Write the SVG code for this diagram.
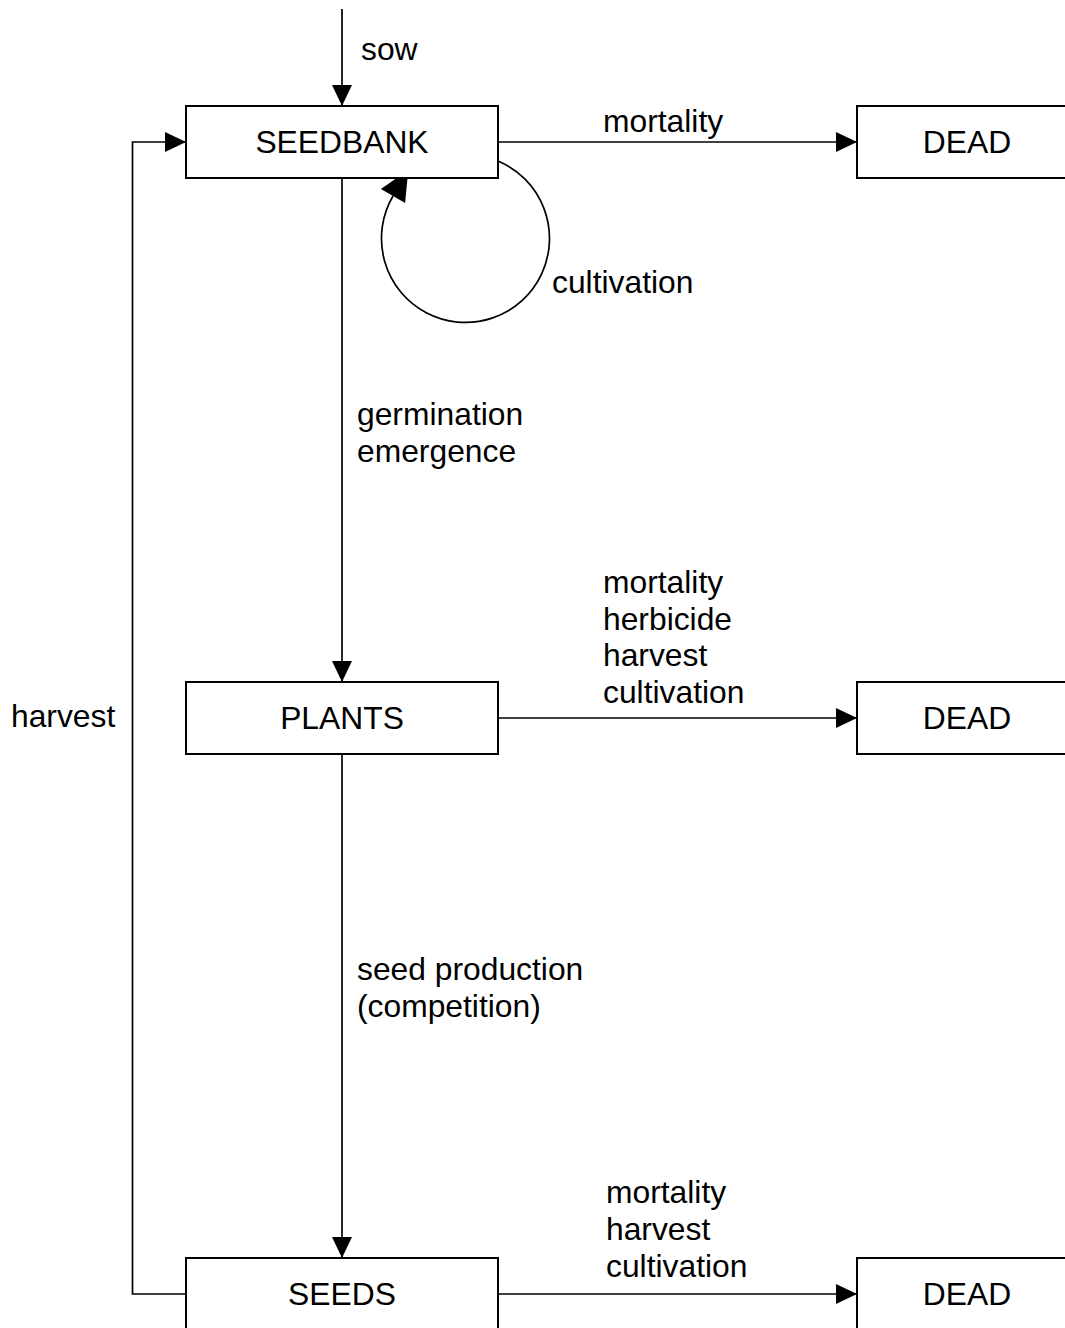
<svg xmlns="http://www.w3.org/2000/svg" width="1065" height="1328" viewBox="0 0 1065 1328">
<defs>
<marker id="arr" markerUnits="userSpaceOnUse" markerWidth="22" markerHeight="20" refX="21" refY="10" orient="auto">
<path d="M0,0 L21,10 L0,20 z" fill="#000"/>
</marker>
<style>
.box{fill:#fff;stroke:#000;stroke-width:2}
.ln{fill:none;stroke:#000;stroke-width:1.7}
text{font-family:"Liberation Sans",Arial,sans-serif;font-size:31.8px;fill:#000}
.c{text-anchor:middle}
</style>
</defs>
<rect width="1065" height="1328" fill="#fff"/>
<g id="connectors">
<line class="ln" x1="342" y1="9" x2="342" y2="106" marker-end="url(#arr)"/>
<line class="ln" x1="342" y1="178" x2="342" y2="682" marker-end="url(#arr)"/>
<line class="ln" x1="342" y1="754" x2="342" y2="1258" marker-end="url(#arr)"/>
<line class="ln" x1="498" y1="142" x2="857" y2="142" marker-end="url(#arr)"/>
<line class="ln" x1="498" y1="718" x2="857" y2="718" marker-end="url(#arr)"/>
<line class="ln" x1="498" y1="1294" x2="857" y2="1294" marker-end="url(#arr)"/>
<polyline class="ln" points="186,1294 132.5,1294 132.5,142 186,142" marker-end="url(#arr)"/>
<path class="ln" d="M498,161 A84,84 0 1 1 393,196"/>
<polygon points="408.3,170 405.1,203.1 380.9,188.9" fill="#000"/>
<text x="361" y="60">sow</text>
<text x="603" y="132">mortality</text>
<text x="552" y="293">cultivation</text>
<text x="357" y="425">germination</text>
<text x="357" y="462">emergence</text>
<text x="603" y="593">mortality</text>
<text x="603" y="630">herbicide</text>
<text x="603" y="666">harvest</text>
<text x="603" y="703">cultivation</text>
<text x="11" y="727">harvest</text>
<text x="357" y="980">seed production</text>
<text x="357" y="1017">(competition)</text>
<text x="606" y="1203">mortality</text>
<text x="606" y="1240">harvest</text>
<text x="606" y="1277">cultivation</text>
</g>
<g id="seedbank"><rect class="box" x="186" y="106" width="312" height="72"/><text class="c" x="342" y="153">SEEDBANK</text></g>
<g id="plants"><rect class="box" x="186" y="682" width="312" height="72"/><text class="c" x="342" y="729">PLANTS</text></g>
<g id="seeds"><rect class="box" x="186" y="1258" width="312" height="72"/><text class="c" x="342" y="1305">SEEDS</text></g>
<g id="dead1"><rect class="box" x="857" y="106" width="220" height="72"/><text class="c" x="967" y="153">DEAD</text></g>
<g id="dead2"><rect class="box" x="857" y="682" width="220" height="72"/><text class="c" x="967" y="729">DEAD</text></g>
<g id="dead3"><rect class="box" x="857" y="1258" width="220" height="72"/><text class="c" x="967" y="1305">DEAD</text></g>
</svg>
